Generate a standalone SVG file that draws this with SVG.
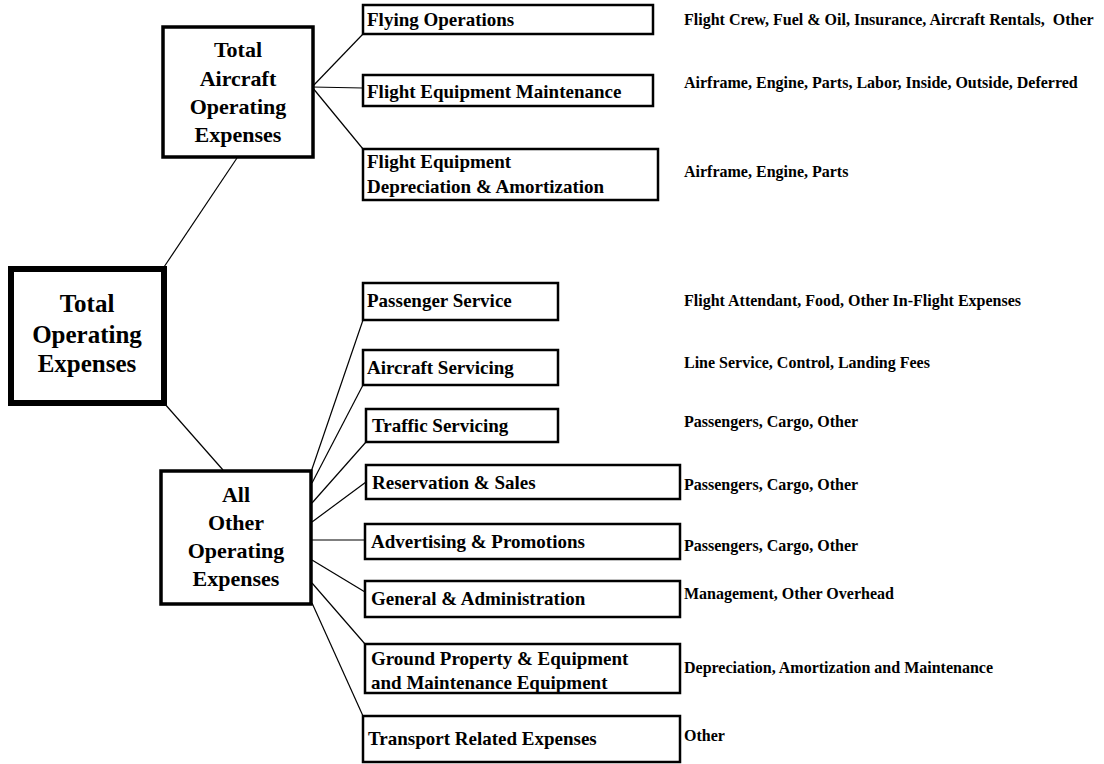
<svg xmlns="http://www.w3.org/2000/svg" width="1104" height="764" viewBox="0 0 1104 764">
<style>
text{font-family:"Liberation Serif","Times New Roman",serif;font-weight:bold;fill:#000}
.box{fill:#fff;stroke:#000;stroke-width:2.5}
.mid{fill:#fff;stroke:#000;stroke-width:3.5}
.main{fill:#fff;stroke:#000;stroke-width:6}
.t25{font-size:25px;text-anchor:middle}
.t22{font-size:22px;text-anchor:middle}
.t19{font-size:19px}
.t16{font-size:16px;white-space:pre}
.conn line{stroke:#000;stroke-width:1.2}
</style>
<rect width="1104" height="764" fill="#fff"/>
<g class="conn">
<line x1="237" y1="158" x2="164" y2="267"/>
<line x1="164" y1="403" x2="223" y2="470"/>
<line x1="312" y1="87" x2="363" y2="34"/>
<line x1="312" y1="87" x2="363" y2="88"/>
<line x1="312" y1="87" x2="363" y2="149"/>
<line x1="311" y1="472" x2="363" y2="320"/>
<line x1="312" y1="483" x2="363" y2="385"/>
<line x1="312" y1="503" x2="366" y2="442"/>
<line x1="312" y1="522" x2="366" y2="482"/>
<line x1="312" y1="540" x2="365" y2="540"/>
<line x1="312" y1="560" x2="365" y2="592"/>
<line x1="312" y1="583" x2="365" y2="644"/>
<line x1="312" y1="603" x2="363" y2="716"/>
</g>
<g id="total">
<rect class="main" x="11" y="269" width="153" height="134"/>
<text class="t25" x="87" y="312">Total</text>
<text class="t25" x="87" y="343">Operating</text>
<text class="t25" x="87" y="372">Expenses</text>
</g>
<g id="aircraft">
<rect class="mid" x="163" y="27" width="150" height="130"/>
<text class="t22" x="238" y="57">Total</text>
<text class="t22" x="238" y="86">Aircraft</text>
<text class="t22" x="238" y="114">Operating</text>
<text class="t22" x="238" y="142">Expenses</text>
</g>
<g id="other">
<rect class="mid" x="161" y="471" width="150" height="133"/>
<text class="t22" x="236" y="502">All</text>
<text class="t22" x="236" y="530">Other</text>
<text class="t22" x="236" y="558">Operating</text>
<text class="t22" x="236" y="586">Expenses</text>
</g>
<g id="flying">
<rect class="box" x="363" y="5" width="290" height="29"/>
<text class="t19" x="367" y="26">Flying Operations</text>
<text class="t16" x="684" y="25">Flight Crew, Fuel &amp; Oil, Insurance, Aircraft Rentals,  Other</text>
</g>
<g id="fem">
<rect class="box" x="363" y="75" width="290" height="31"/>
<text class="t19" x="367" y="98">Flight Equipment Maintenance</text>
<text class="t16" x="684" y="88">Airframe, Engine, Parts, Labor, Inside, Outside, Deferred</text>
</g>
<g id="fed">
<rect class="box" x="363" y="149" width="295" height="51"/>
<text class="t19" x="367" y="168">Flight Equipment</text>
<text class="t19" x="367" y="193">Depreciation &amp; Amortization</text>
<text class="t16" x="684" y="177">Airframe, Engine, Parts</text>
</g>
<g id="passenger">
<rect class="box" x="363" y="283" width="195" height="37"/>
<text class="t19" x="367" y="307">Passenger Service</text>
<text class="t16" x="684" y="306">Flight Attendant, Food, Other In-Flight Expenses</text>
</g>
<g id="acservicing">
<rect class="box" x="363" y="350" width="195" height="35"/>
<text class="t19" x="367" y="374">Aircraft Servicing</text>
<text class="t16" x="684" y="368">Line Service, Control, Landing Fees</text>
</g>
<g id="traffic">
<rect class="box" x="366" y="409" width="192" height="33"/>
<text class="t19" x="372" y="432">Traffic Servicing</text>
<text class="t16" x="684" y="427">Passengers, Cargo, Other</text>
</g>
<g id="reservation">
<rect class="box" x="366" y="465" width="314" height="34"/>
<text class="t19" x="372" y="489">Reservation &amp; Sales</text>
<text class="t16" x="684" y="490">Passengers, Cargo, Other</text>
</g>
<g id="advertising">
<rect class="box" x="365" y="524" width="315" height="35"/>
<text class="t19" x="371" y="548">Advertising &amp; Promotions</text>
<text class="t16" x="684" y="551">Passengers, Cargo, Other</text>
</g>
<g id="general">
<rect class="box" x="365" y="581" width="315" height="36"/>
<text class="t19" x="371" y="605">General &amp; Administration</text>
<text class="t16" x="684" y="599">Management, Other Overhead</text>
</g>
<g id="ground">
<rect class="box" x="365" y="644" width="315" height="49"/>
<text class="t19" x="371" y="665">Ground Property &amp; Equipment</text>
<text class="t19" x="371" y="689">and Maintenance Equipment</text>
<text class="t16" x="684" y="673">Depreciation, Amortization and Maintenance</text>
</g>
<g id="transport">
<rect class="box" x="363" y="716" width="317" height="46"/>
<text class="t19" x="368" y="745">Transport Related Expenses</text>
<text class="t16" x="684" y="741">Other</text>
</g>
</svg>
